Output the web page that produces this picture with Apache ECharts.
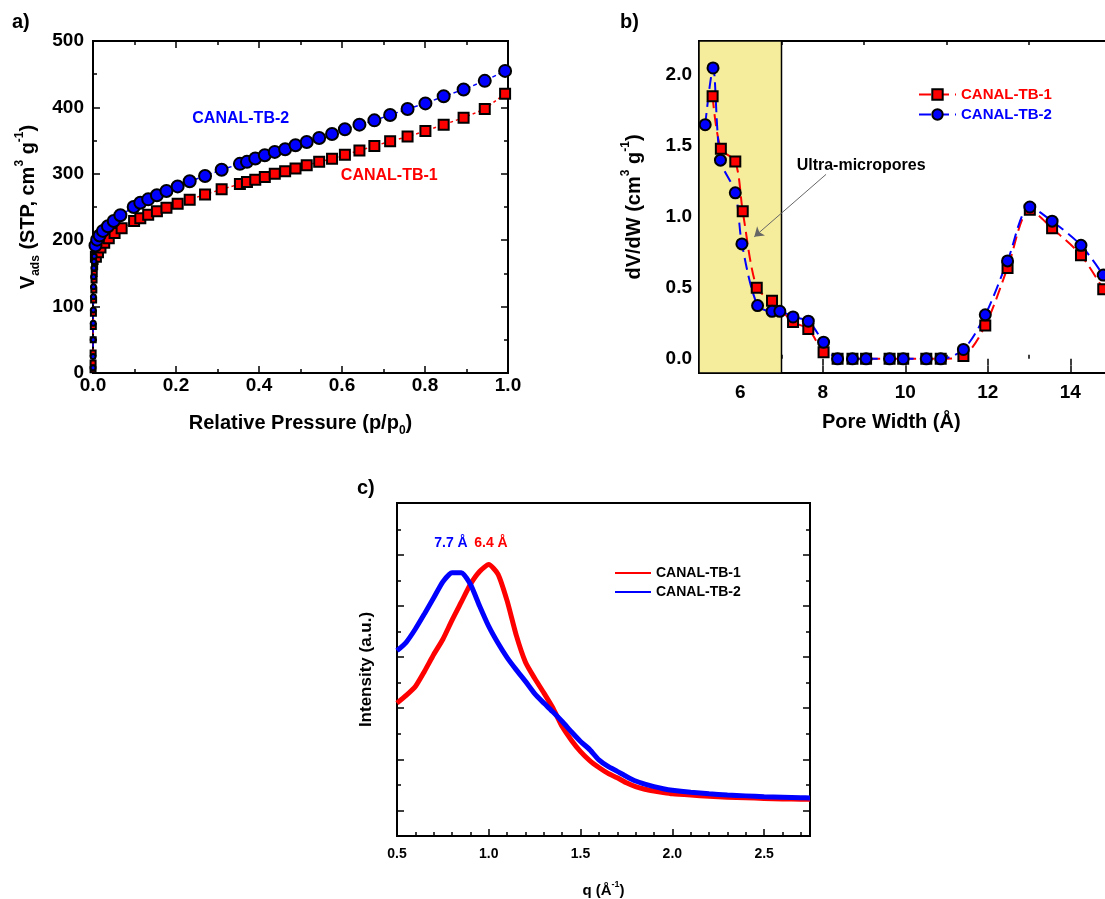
<!DOCTYPE html>
<html>
<head>
<meta charset="utf-8">
<script src="https://cdn.jsdelivr.net/npm/echarts@6/dist/echarts.min.js"></script>
<style>
  html, body { margin: 0; background: #fff; }
  #chart { width: 1105px; height: 899px; }
</style>
</head>
<body>
<div id="chart"></div>
<script>
// a) N2 isotherms
const isoP1 = [0.0001, 0.0002, 0.0003, 0.0005, 0.0008, 0.001, 0.0015, 0.002, 0.0025, 0.003, 0.004, 0.005, 0.007, 0.012, 0.018, 0.027, 0.038, 0.052, 0.069,
  0.099, 0.114, 0.133, 0.154, 0.177, 0.204, 0.233, 0.27, 0.31, 0.354, 0.371, 0.391, 0.414, 0.438, 0.463, 0.488,
  0.515, 0.545, 0.576, 0.607, 0.642, 0.678, 0.716, 0.758, 0.801, 0.845, 0.893, 0.944, 0.993]
const isoV1 = [5, 15, 30, 50, 70, 90, 110, 125, 140, 150, 160, 168, 175, 182, 189, 196, 203, 211, 218,
  229, 233, 238.5, 243.5, 249, 255, 261, 269, 276.6, 284.6, 287.6, 291, 295, 300, 303.7, 308,
  313, 318, 322.8, 328.8, 335, 341.8, 349, 356, 364.5, 374, 384.5, 397.6, 420.7]
const isoP2 = [0.0001, 0.0002, 0.0004, 0.0006, 0.0008, 0.001, 0.0012, 0.0015, 0.002, 0.0025, 0.003, 0.004, 0.006, 0.01, 0.016, 0.024, 0.036, 0.05, 0.066,
  0.098, 0.114, 0.133, 0.154, 0.177, 0.204, 0.233, 0.27, 0.31, 0.354, 0.371, 0.391, 0.414, 0.438, 0.463, 0.488,
  0.515, 0.545, 0.576, 0.607, 0.642, 0.678, 0.716, 0.758, 0.801, 0.845, 0.893, 0.944, 0.993]
const isoV2 = [8, 25, 50, 75, 95, 115, 130, 145, 158, 168, 176, 185, 192, 200.8, 207, 214, 221, 229, 237.5,
  250, 256.5, 261.5, 267.6, 274, 281, 288.7, 296.7, 306, 315, 318, 323, 328, 333, 337, 343,
  348, 354, 360, 367, 374, 380.5, 388.6, 397.6, 406, 416.7, 427, 440, 455]

// b) pore size distribution
const poreW1 = [5.33, 5.53, 5.88, 6.06, 6.40, 6.77, 7.28, 7.65, 8.02, 8.36, 8.72, 9.05, 9.62, 9.95, 10.51, 10.86, 11.41, 11.94, 12.48, 13.02, 13.56, 14.26, 14.80]
const psd1 = [1.85, 1.48, 1.39, 1.04, 0.50, 0.41, 0.26, 0.21, 0.047, 0, 0, 0, 0, 0, 0, 0, 0.02, 0.235, 0.64, 1.05, 0.92, 0.73, 0.49]
const poreW2 = [5.15, 5.34, 5.52, 5.88, 6.04, 6.42, 6.77, 6.96, 7.28, 7.65, 8.02, 8.36, 8.72, 9.05, 9.62, 9.95, 10.51, 10.86, 11.41, 11.94, 12.48, 13.02, 13.56, 14.26, 14.80]
const psd2 = [1.65, 2.05, 1.40, 1.17, 0.81, 0.375, 0.335, 0.335, 0.295, 0.265, 0.117, 0, 0, 0, 0, 0, 0, 0, 0.066, 0.31, 0.69, 1.07, 0.97, 0.80, 0.59]
const psdTicks = [0, 0.5, 1.0, 1.5, 2.0]
const widthTicks = [6, 8, 10, 12, 14]

// c) scattering (arbitrary intensity units)
const qVals = [0.50, 0.55, 0.60, 0.65, 0.70, 0.75, 0.80, 0.85, 0.90, 0.95, 1.00, 1.05, 1.10, 1.15, 1.20, 1.25, 1.30, 1.35, 1.40, 1.45,
  1.50, 1.55, 1.60, 1.65, 1.70, 1.75, 1.80, 1.85, 1.90, 1.95, 2.00, 2.10, 2.20, 2.30, 2.40, 2.50, 2.60, 2.70, 2.75]
const int1 = [5.2, 5.5, 5.85, 6.45, 7.1, 7.7, 8.45, 9.15, 9.85, 10.35, 10.62, 10.25, 9.2, 7.85, 6.8, 6.17, 5.6, 5.0, 4.28, 3.75,
  3.3, 2.95, 2.68, 2.45, 2.28, 2.08, 1.93, 1.83, 1.76, 1.7, 1.65, 1.6, 1.56, 1.52, 1.5, 1.47, 1.45, 1.44, 1.44]
const int2 = [7.25, 7.58, 8.1, 8.7, 9.32, 9.95, 10.3, 10.3, 9.85, 9.0, 8.2, 7.55, 6.98, 6.5, 6.05, 5.57, 5.2, 4.85, 4.48, 4.08,
  3.7, 3.38, 2.98, 2.72, 2.53, 2.33, 2.15, 2.03, 1.93, 1.85, 1.79, 1.71, 1.65, 1.6, 1.57, 1.54, 1.52, 1.5, 1.49]

const FONT = '"Liberation Sans", Arial, sans-serif'
const RED = '#ff0000'
const BLUE = '#0000ff'
const pairs = (xs, ys) => xs.map((x, i) => [x, ys[i]])
// points crowded against the y axis get small markers (Origin clips them at the frame)
const isoSize = big => val => (val[0] < 0.006 ? 5 : big)

const line = { show: true, onZero: false, lineStyle: { color: '#000', width: 2 } }
const tickStyle = { color: '#000', width: 1.5 }
const noSplit = { show: false }
const lbl = (size, margin, extra) => Object.assign({ color: '#000', fontWeight: 'bold', fontFamily: FONT, fontSize: size, margin: margin }, extra)
const nameStyle = (size, lh, extra) => Object.assign({
  color: '#000', fontWeight: 'bold', fontFamily: FONT, fontSize: size, lineHeight: lh,
  rich: {
    sub: { fontSize: Math.round(size * 0.6), fontWeight: 'bold', fontFamily: FONT, lineHeight: 12, verticalAlign: 'bottom' },
    sup: { fontSize: Math.round(size * 0.6), fontWeight: 'bold', fontFamily: FONT, lineHeight: 12, verticalAlign: 'top' }
  }
}, extra)
// extra axis that only draws ticks at given values
const tickAxis = (grid, pos, min, max, values, len) => ({
  type: 'value', gridIndex: grid, position: pos, min: min, max: max,
  axisLine: { show: false },
  axisTick: { show: true, inside: true, length: len, lineStyle: tickStyle, customValues: values },
  axisLabel: { show: false }, splitLine: noSplit
})
const textMark = (coord, text, color, size) => ({
  silent: true, symbol: 'circle', symbolSize: 1,
  itemStyle: { color: 'rgba(0,0,0,0)' },
  label: { show: true, position: 'inside', color: color, fontWeight: 'bold', fontFamily: FONT, fontSize: size },
  data: [{ coord: coord, label: { formatter: text } }]
})
const gridBox = (left, top, width, height) => ({
  left: left, top: top, width: width, height: height,
  outerBoundsMode: 'none', containLabel: false,
  show: true, borderColor: '#000', borderWidth: 2
})

const chart = echarts.init(document.getElementById('chart'))
chart.setOption({
  animation: false,
  backgroundColor: '#fff',
  graphic: [
    { type: 'text', left: 12, top: 12, style: { text: 'a)', font: 'bold 20px ' + FONT, fill: '#000' } },
    { type: 'text', left: 620, top: 12, style: { text: 'b)', font: 'bold 20px ' + FONT, fill: '#000' } },
    { type: 'text', left: 357, top: 478, style: { text: 'c)', font: 'bold 20px ' + FONT, fill: '#000' } }
  ],
  grid: [
    gridBox(93, 41, 415, 332),
    gridBox(699, 41, 412.5, 332),
    gridBox(397, 503, 413, 333)
  ],
  legend: [
    {
      orient: 'vertical', left: 918, top: 87, padding: 0, itemWidth: 37, itemHeight: 13, itemGap: 5,
      selectedMode: false,
      formatter: name => name.replace(' PSD', ''),
      textStyle: { fontWeight: 'bold', fontFamily: FONT, fontSize: 15 },
      data: [
        { name: 'CANAL-TB-1 PSD', textStyle: { color: RED } },
        { name: 'CANAL-TB-2 PSD', textStyle: { color: BLUE } }
      ]
    },
    {
      orient: 'vertical', left: 615, top: 566, padding: 0, itemWidth: 36, itemHeight: 2, itemGap: 5,
      selectedMode: false, icon: 'rect',
      formatter: name => name.replace(' SAXS', ''),
      textStyle: { color: '#000', fontWeight: 'bold', fontFamily: FONT, fontSize: 14 },
      data: ['CANAL-TB-1 SAXS', 'CANAL-TB-2 SAXS']
    }
  ],
  xAxis: [
    {
      type: 'value', gridIndex: 0, position: 'bottom', min: 0, max: 1, interval: 0.2,
      axisLine: line,
      axisTick: { inside: true, length: 7, lineStyle: tickStyle },
      minorTick: { show: true, splitNumber: 2, length: 4, lineStyle: tickStyle },
      axisLabel: lbl(19, 3, { formatter: v => v.toFixed(1) }),
      splitLine: noSplit,
      name: 'Relative Pressure (p/p{sub|0})', nameLocation: 'middle', nameGap: 36,
      nameTextStyle: nameStyle(20, 28)
    },
    {
      type: 'value', gridIndex: 0, position: 'top', min: 0, max: 1, interval: 0.2,
      axisLine: line,
      axisTick: { inside: true, length: 7, lineStyle: tickStyle },
      minorTick: { show: true, splitNumber: 2, length: 4, lineStyle: tickStyle },
      axisLabel: { show: false }, splitLine: noSplit
    },
    {
      type: 'value', gridIndex: 1, position: 'bottom', min: 5, max: 15,
      axisLine: line,
      axisTick: { inside: true, length: 7, lineStyle: tickStyle, customValues: widthTicks },
      axisLabel: lbl(19, 10, { customValues: widthTicks }),
      splitLine: noSplit,
      name: 'Pore Width (Å)', nameLocation: 'middle', nameGap: 35,
      nameTextStyle: nameStyle(20, 28, { padding: [0, 28, 0, 0] })
    },
    tickAxis(1, 'bottom', 5, 15, [7, 9, 11, 13], 4),
    tickAxis(1, 'top', 5, 15, widthTicks, 7),
    tickAxis(1, 'top', 5, 15, [7, 9, 11, 13], 4),
    {
      type: 'value', gridIndex: 2, position: 'bottom', min: 0.5, max: 2.75, interval: 0.5,
      axisLine: line,
      axisTick: { inside: true, length: 7, lineStyle: tickStyle },
      axisLabel: lbl(14, 11, { formatter: v => v.toFixed(1), showMaxLabel: false }),
      splitLine: noSplit,
      name: 'q (Å{sup|-1})', nameLocation: 'middle', nameGap: 44,
      nameTextStyle: nameStyle(15, 22)
    },
    {
      type: 'value', gridIndex: 2, position: 'bottom', min: 0.5, max: 2.75, interval: 0.1,
      axisLine: { show: false },
      axisTick: { inside: true, length: 4, lineStyle: tickStyle },
      axisLabel: { show: false }, splitLine: noSplit
    }
  ],
  yAxis: [
    {
      type: 'value', gridIndex: 0, position: 'left', min: 0, max: 500, interval: 100,
      axisLine: line,
      axisTick: { inside: true, length: 7, lineStyle: tickStyle },
      minorTick: { show: true, splitNumber: 2, length: 4, lineStyle: tickStyle },
      axisLabel: lbl(19, 9),
      splitLine: noSplit,
      name: 'V{sub|ads} (STP, cm{sup|3} g{sup|-1})', nameLocation: 'middle', nameGap: 51,
      nameTextStyle: nameStyle(20, 28)
    },
    {
      type: 'value', gridIndex: 0, position: 'right', min: 0, max: 500, interval: 100,
      axisLine: line,
      axisTick: { inside: true, length: 7, lineStyle: tickStyle },
      minorTick: { show: true, splitNumber: 2, length: 4, lineStyle: tickStyle },
      axisLabel: { show: false }, splitLine: noSplit
    },
    {
      type: 'value', gridIndex: 1, position: 'left', min: -0.1, max: 2.24,
      axisLine: line,
      axisTick: { inside: true, length: 7, lineStyle: tickStyle, customValues: psdTicks },
      axisLabel: lbl(19, 7, { customValues: psdTicks, formatter: v => v.toFixed(1) }),
      splitLine: noSplit,
      name: 'dV/dW (cm{sup|3} g{sup|-1})', nameLocation: 'middle', nameGap: 51,
      nameTextStyle: nameStyle(20, 28)
    },
    tickAxis(1, 'left', -0.1, 2.24, [0.25, 0.75, 1.25, 1.75], 4),
    {
      type: 'value', gridIndex: 2, position: 'left', min: 0, max: 13.03,
      axisLine: line,
      axisTick: { inside: true, length: 7, lineStyle: tickStyle, customValues: [1, 3, 5, 7, 9, 11] },
      axisLabel: { show: false }, splitLine: noSplit,
      name: 'Intensity (a.u.)', nameLocation: 'middle', nameGap: 21,
      nameTextStyle: { color: '#000', fontWeight: 'bold', fontFamily: FONT, fontSize: 17, lineHeight: 20 }
    },
    tickAxis(2, 'left', 0, 13.03, [2, 4, 6, 8, 10, 12], 4),
    tickAxis(2, 'right', 0, 13.03, [1, 3, 5, 7, 9, 11], 7),
    tickAxis(2, 'right', 0, 13.03, [2, 4, 6, 8, 10, 12], 4)
  ],
  series: [
    // b
    {
      name: 'CANAL-TB-1 PSD', type: 'line', xAxisIndex: 2, yAxisIndex: 2,
      data: pairs(poreW1, psd1), smooth: 0.3,
      symbol: 'rect', symbolSize: 10,
      itemStyle: { color: RED, borderColor: '#000', borderWidth: 2 },
      lineStyle: { color: RED, width: 2, type: [12, 6] },
      markArea: {
        silent: true,
        itemStyle: { color: '#f5ec9c', borderColor: '#000', borderWidth: 1.5 },
        data: [[{ xAxis: 5 }, { xAxis: 7 }]]
      }
    },
    {
      name: 'CANAL-TB-2 PSD', type: 'line', xAxisIndex: 2, yAxisIndex: 2,
      data: pairs(poreW2, psd2), smooth: 0.3,
      symbol: 'circle', symbolSize: 11,
      itemStyle: { color: BLUE, borderColor: '#000', borderWidth: 2 },
      lineStyle: { color: BLUE, width: 2, type: [12, 6] },
      markLine: {
        silent: true, symbol: ['none', 'arrow'], symbolSize: 9,
        label: { show: false },
        lineStyle: { color: '#666', width: 1, type: 'solid' },
        data: [[{ coord: [8.08, 1.30] }, { coord: [6.34, 0.86] }]]
      },
      markPoint: textMark([8.93, 1.36], 'Ultra-micropores', '#000', 16)
    },
    // a
    {
      name: 'CANAL-TB-1 iso', type: 'line', xAxisIndex: 0, yAxisIndex: 0,
      data: pairs(isoP1, isoV1),
      symbol: 'rect', symbolSize: isoSize(10),
      itemStyle: { color: RED, borderColor: '#000', borderWidth: 2 },
      lineStyle: { color: RED, width: 1.5, type: [3, 3] },
      markPoint: textMark([0.714, 298], 'CANAL-TB-1', RED, 16)
    },
    {
      name: 'CANAL-TB-2 iso', type: 'line', xAxisIndex: 0, yAxisIndex: 0,
      data: pairs(isoP2, isoV2),
      symbol: 'circle', symbolSize: isoSize(12),
      itemStyle: { color: BLUE, borderColor: '#000', borderWidth: 2 },
      lineStyle: { color: BLUE, width: 1.5, type: [4, 3] },
      markPoint: textMark([0.356, 382.5], 'CANAL-TB-2', BLUE, 16)
    },
    // c
    {
      name: 'CANAL-TB-1 SAXS', type: 'line', xAxisIndex: 6, yAxisIndex: 4,
      data: pairs(qVals, int1), symbol: 'none', smooth: 0.2,
      itemStyle: { color: RED },
      lineStyle: { color: RED, width: 5 },
      markPoint: textMark([1.012, 11.45], '6.4 Å', RED, 14)
    },
    {
      name: 'CANAL-TB-2 SAXS', type: 'line', xAxisIndex: 6, yAxisIndex: 4,
      data: pairs(qVals, int2), symbol: 'none', smooth: 0.2,
      itemStyle: { color: BLUE },
      lineStyle: { color: BLUE, width: 5 },
      markPoint: textMark([0.794, 11.45], '7.7 Å', BLUE, 14)
    }
  ]
})
</script>
</body>
</html>
